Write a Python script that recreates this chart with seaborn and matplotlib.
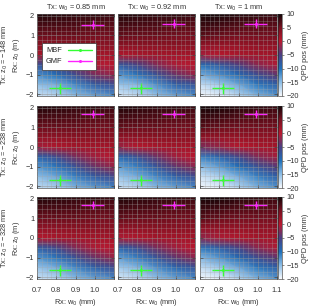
import numpy as np
import matplotlib
matplotlib.use("Agg")
import matplotlib.pyplot as plt
from matplotlib.lines import Line2D
from matplotlib.ticker import MultipleLocator
import seaborn as sns

sns.set_theme(style="ticks")
plt.rcParams['font.family'] = ['Liberation Sans', 'DejaVu Sans']

# grid nodes of the QPD map
rx_w0 = [0.7, 0.8, 0.9, 1.0, 1.1]
rx_z0 = [-2.1, -1.5, -1.0, -0.5, 0.0, 0.5, 1.0, 2.1]

tx_w0_labels = ["0.85", "0.92", "1"]
tx_z0_labels = ["\u2212148", "\u2212238", "\u2212328"]

# QPD pos (mm), rows from rx_z0 = -2.1 up to 2.1, columns along rx_w0
qpd_r0c0 = [[-18, -17, -15, -13.5, -12],
            [-15, -14, -11.5, -8, -6.5],
            [-12, -10, -6.5, -3, -1.5],
            [-7.5, -5, -2, -0.5, 0],
            [1, 1.5, 1.5, 1.5, 1.5],
            [3.5, 3.5, 3.5, 3.5, 3.5],
            [5.5, 5.5, 5.5, 5, 5],
            [9.5, 9, 8.5, 8.5, 8]]
qpd_r0c1 = [[-18.5, -17.5, -15.5, -13.5, -12],
            [-15.5, -14.5, -12, -8.5, -7],
            [-12.5, -10.5, -7, -3.5, -1.5],
            [-8, -5.5, -2.5, -0.5, 0],
            [0.5, 1, 1.5, 1.5, 1.5],
            [3.5, 3.5, 3.5, 3.5, 3.5],
            [6, 5.5, 5.5, 5, 5],
            [9.5, 9, 8.5, 8.5, 8]]
qpd_r0c2 = [[-20, -19, -17, -14.5, -12.5],
            [-17.5, -16, -13.5, -10.5, -8.5],
            [-14, -12, -9.5, -6.5, -4],
            [-10, -8, -5, -2, -0.5],
            [-1, 0, 1, 1.5, 1.5],
            [3, 2.5, 2.5, 3, 3],
            [6.5, 5.5, 5, 5, 5],
            [10, 10, 9, 8.5, 8]]
qpd_r1c0 = [[-17.5, -16.5, -14.5, -13, -11.5],
            [-15, -13.5, -11, -8, -6],
            [-12.5, -10.5, -7, -3.5, -1.5],
            [-9, -6.5, -3, -1, 0],
            [-1, 0.5, 1.5, 1.5, 1.5],
            [3, 3, 3.5, 3.5, 3.5],
            [5.5, 5.5, 5.5, 5, 5],
            [9.5, 9, 8.5, 8.5, 8]]
qpd_r1c1 = [[-18, -17, -15, -13.5, -12],
            [-15.5, -14, -11.5, -8.5, -6.5],
            [-13, -11, -7.5, -4, -2],
            [-9.5, -7, -3.5, -1, 0],
            [-1.5, 0, 1, 1.5, 1.5],
            [3, 3, 3.5, 3.5, 3.5],
            [6, 5.5, 5.5, 5, 5],
            [9.5, 9, 8.5, 8.5, 8]]
qpd_r1c2 = [[-20, -19, -17, -14.5, -12.5],
            [-18, -16.5, -14, -11, -8.5],
            [-15, -13, -10, -7, -4.5],
            [-11, -9, -6, -2.5, -1],
            [-3, -1.5, 0, 1, 1.5],
            [3, 2.5, 2.5, 3, 3],
            [6.5, 5.5, 5, 5, 5],
            [10, 10, 9, 8.5, 8]]
qpd_r2c0 = [[-18, -17, -15, -13.5, -12],
            [-15.5, -14, -11.5, -8.5, -6.5],
            [-12.5, -10.5, -7, -3.5, -1.5],
            [-8.5, -6, -2.5, -0.5, 0],
            [0, 1, 1.5, 1.5, 1.5],
            [3, 3, 3.5, 3.5, 3.5],
            [5.5, 5.5, 5.5, 5, 5],
            [9.5, 9, 8.5, 8.5, 8]]
qpd_r2c1 = [[-18.5, -17.5, -15.5, -13.5, -12],
            [-16, -14.5, -12, -9, -7],
            [-13, -11, -7.5, -4, -2],
            [-9, -6.5, -3, -1, 0],
            [-0.5, 0.5, 1.5, 1.5, 1.5],
            [3, 3, 3.5, 3.5, 3.5],
            [6, 5.5, 5.5, 5, 5],
            [9.5, 9, 8.5, 8.5, 8]]
qpd_r2c2 = [[-20, -19, -17, -14.5, -12.5],
            [-17.5, -16, -13.5, -10.5, -8.5],
            [-14.5, -12.5, -9.5, -6.5, -4],
            [-10.5, -8.5, -5.5, -2, -0.5],
            [-2, -0.5, 0.5, 1.5, 1.5],
            [3, 2.5, 2.5, 3, 3],
            [6.5, 5.5, 5, 5, 5],
            [10, 10, 9, 8.5, 8]]
qpd = [[qpd_r0c0, qpd_r0c1, qpd_r0c2],
       [qpd_r1c0, qpd_r1c1, qpd_r1c2],
       [qpd_r2c0, qpd_r2c1, qpd_r2c2]]

# fitted positions with errors
mbf_w0 = [[0.82, 0.82, 0.82], [0.82, 0.82, 0.82], [0.82, 0.82, 0.82]]
mbf_z0 = [[-1.7, -1.7, -1.7], [-1.7, -1.7, -1.7], [-1.65, -1.65, -1.65]]
mbf_w0_err = 0.057
mbf_z0_err = 0.28
gmf_w0 = [[0.99, 0.99, 0.99], [0.99, 0.99, 0.99], [0.99, 0.99, 0.99]]
gmf_z0 = [[1.55, 1.6, 1.6], [1.7, 1.7, 1.7], [1.68, 1.7, 1.7]]
gmf_w0_err = 0.06
gmf_z0_err = 0.22

cbar_ticks = [10, 5, 0, -5, -10, -15, -20]
x_ticks = [0.7, 0.8, 0.9, 1.0, 1.1]
y_ticks = [-2, -1, 0, 1, 2]

cmap = sns.blend_palette(["#f6f9fd", "#8cbde6", "#1f6fb8", "#4a3f82",
                          "#b8192f", "#781020", "#140507"], as_cmap=True)

W, H = 313, 307
fig = plt.figure(figsize=(W / 100, H / 100), dpi=100)
fs = 5.3
col_x = [37, 118, 200]
row_y = [14, 106, 197]
pw, ph = 77, 82

X, Y = np.meshgrid(rx_w0, rx_z0)
for r in range(3):
    for c in range(3):
        ax = fig.add_axes([col_x[c] / W, 1 - (row_y[r] + ph) / H, pw / W, ph / H])
        mesh = ax.pcolormesh(X, Y, np.array(qpd[r][c]), cmap=cmap, vmin=-20, vmax=10,
                             shading="gouraud", rasterized=True)
        ax.set_xlim(0.7, 1.1)
        ax.set_ylim(-2.1, 2.1)
        ax.xaxis.set_minor_locator(MultipleLocator(0.025))
        ax.yaxis.set_minor_locator(MultipleLocator(0.25))
        ax.grid(which="minor", color="#a8a8a8", lw=0.4, alpha=0.5)
        ax.grid(which="major", color="#909090", lw=0.5, alpha=0.7)
        ax.set_axisbelow(False)
        ax.set_xticks(x_ticks)
        ax.set_yticks(y_ticks)
        ax.tick_params(which="major", direction="in", length=2, width=0.4,
                       top=True, right=True, labelsize=fs, pad=2, colors="#333333")
        ax.tick_params(which="minor", length=0)
        for s in ax.spines.values():
            s.set_linewidth(0.5)
            s.set_color("#555555")

        ax.errorbar(mbf_w0[r][c], mbf_z0[r][c], xerr=mbf_w0_err, yerr=mbf_z0_err,
                    color="#33ff33", lw=1.0, capsize=0, marker="o", ms=1.2)
        ax.errorbar(gmf_w0[r][c], gmf_z0[r][c], xerr=gmf_w0_err, yerr=gmf_z0_err,
                    color="#ff22ff", lw=1.0, capsize=0, marker="o", ms=1.2)

        if r == 0:
            ax.set_title("Tx: w$_0$ = " + tx_w0_labels[c] + " mm", fontsize=fs, pad=3,
                         color="#333333")
        if c == 0:
            ax.set_yticklabels([str(v).replace("-", "\u2212") for v in y_ticks])
            ax.set_ylabel("Tx: z$_0$ = " + tx_z0_labels[r] + " mm\nRx: z$_0$ (m)",
                          fontsize=fs, labelpad=3, linespacing=1.1, color="#333333")
        else:
            ax.set_yticklabels([])
        if r == 2:
            labels = ["%.1f" % v for v in x_ticks]
            if c < 2:
                labels[-1] = ""
            ax.set_xticklabels(labels)
            ax.tick_params(axis="x", pad=6)
            ax.set_xlabel("Rx: w$_0$ (mm)", fontsize=fs, labelpad=2, color="#333333")
        else:
            ax.set_xticklabels([])

        if r == 0 and c == 0:
            handles = [Line2D([], [], color="#33ff33", lw=1.0, marker="o", ms=1.2),
                       Line2D([], [], color="#ff22ff", lw=1.0, marker="o", ms=1.2)]
            leg = ax.legend(handles, ["MBF", "GMF"], loc="upper left",
                            bbox_to_anchor=(0.06, 0.65), markerfirst=False,
                            fontsize=fs, handlelength=3.2, frameon=True, fancybox=False,
                            borderpad=0.6, labelspacing=0.55, handletextpad=0.8,
                            borderaxespad=0)
            leg.get_frame().set_edgecolor("#333333")
            leg.get_frame().set_linewidth(0.5)
            leg.get_frame().set_alpha(1)

    cax = fig.add_axes([278 / W, 1 - (row_y[r] + ph) / H, 3.5 / W, ph / H])
    cb = fig.colorbar(mesh, cax=cax, ticks=cbar_ticks)
    cb.outline.set_linewidth(0.4)
    cax.tick_params(labelsize=fs, length=1.5, width=0.4, pad=2, colors="#333333")
    cax.set_yticklabels([str(v).replace("-", "\u2212") for v in cbar_ticks])
    cb.set_label("QPD pos (mm)", fontsize=fs, labelpad=2, color="#333333")

fig.savefig("out.png", dpi=100)
